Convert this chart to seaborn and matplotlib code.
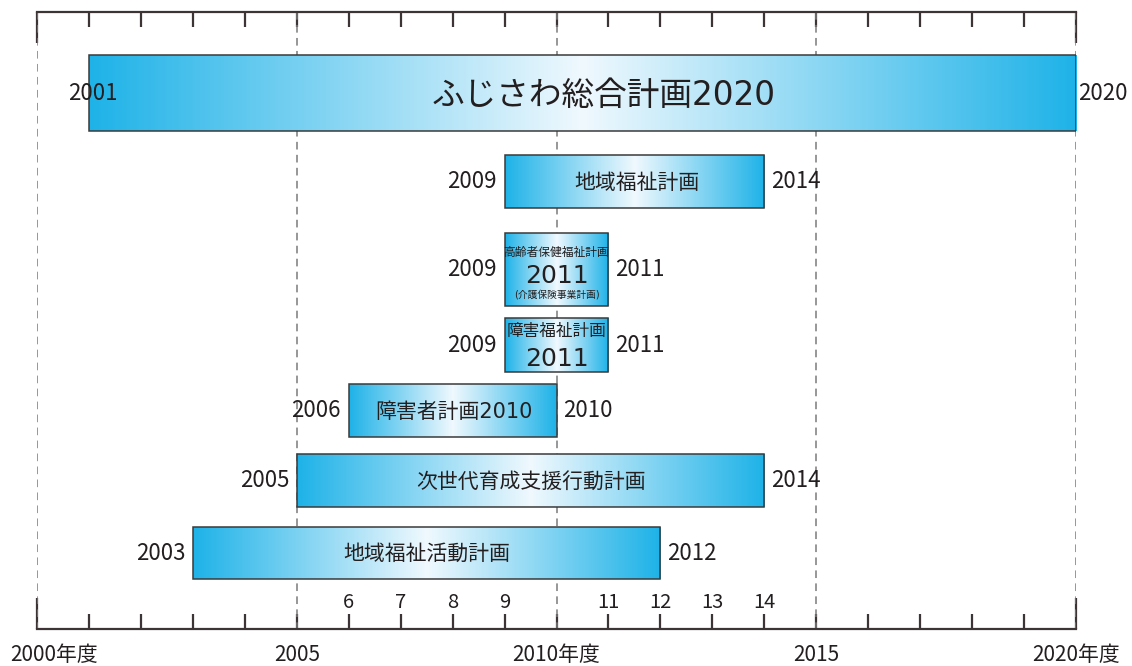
import numpy as np
import matplotlib
matplotlib.use("Agg")
import matplotlib.pyplot as plt
from matplotlib.ticker import FixedLocator, NullFormatter
import seaborn as sns

# ---- data -------------------------------------------------------------
plans = [
    "ふじさわ総合計画2020",
    "地域福祉計画",
    "高齢者保健福祉計画2011",
    "障害福祉計画2011",
    "障害者計画2010",
    "次世代育成支援行動計画",
    "地域福祉活動計画",
]
plan_note = "(介護保険事業計画)"
start_year = [2001, 2009, 2009, 2009, 2006, 2005, 2003]
end_year = [2020, 2014, 2011, 2011, 2010, 2014, 2012]

axis_years = [2000, 2005, 2010, 2015, 2020]
axis_labels = ["2000年度", "2005", "2010年度", "2015", "2020年度"]
short_years = [2006, 2007, 2008, 2009, 2011, 2012, 2013, 2014]

# ---- layout (vertical lanes, measured from the top frame line) -----------
lane_center = [81, 169.5, 257.5, 333, 398.5, 468.5, 541]
lane_height = [76, 53, 73, 54, 53, 53, 52]
AX_DEPTH = 617

sns.set_theme(style="white")
plt.rcParams["font.family"] = ["Noto Sans CJK JP", "DejaVu Sans"]
BAR_FONT = ["DejaVu Sans", "Noto Sans CJK JP"]   # wide digits inside the bars
INK = "#231f20"
FRAME = "#3d3535"

fig = plt.figure(figsize=(11.32, 6.66), dpi=100)
ax = fig.add_axes([37 / 1132, 37 / 666, 1039 / 1132, 617 / 666])

# dashed guide lines every five years
for yr in axis_years:
    ax.vlines(yr, 0, AX_DEPTH, colors="#7a7a7a", linewidth=1.1,
              linestyles=(0, (5, 3.5)), zorder=1)

# gradient fill: deep cyan at both ends, pale in the middle
edge = np.array([0.12, 0.70, 0.91])
mid = np.array([0.94, 0.975, 0.995])
t = np.linspace(0, 1, 256)
w = 1 - np.abs(2 * t - 1)
grad = (edge + (mid - edge) * w[:, None])[None, :, :]

bars = ax.barh(lane_center, np.array(end_year) - np.array(start_year),
               left=start_year, height=lane_height, facecolor="none",
               edgecolor="#3a3a3a", linewidth=1.1, zorder=3)
for bar, s, e, yc, h in zip(bars, start_year, end_year, lane_center, lane_height):
    im = ax.imshow(grad, extent=(s, e, yc + h / 2, yc - h / 2), aspect="auto",
                   interpolation="bilinear", zorder=2)
    im.set_clip_path(bar)

# year labels at both ends of each bar
for i, (s, e, yc) in enumerate(zip(start_year, end_year, lane_center)):
    if i == 0:
        ax.annotate(str(s), (s, yc), xytext=(3, 0), textcoords="offset points",
                    ha="center", va="center", fontsize=16, color=INK, zorder=5)
        ax.annotate(str(e), (e, yc), xytext=(1.5, 0), textcoords="offset points",
                    ha="left", va="center", fontsize=16, color=INK, zorder=5)
    else:
        ax.annotate(str(s), (s, yc), xytext=(-5.5, 0), textcoords="offset points",
                    ha="right", va="center", fontsize=16, color=INK, zorder=5)
        ax.annotate(str(e), (e, yc), xytext=(5, 0), textcoords="offset points",
                    ha="left", va="center", fontsize=16, color=INK, zorder=5)


# plan names inside the bars
def bar_text(i, label, dx_pt, dy_px, size):
    xc = (start_year[i] + end_year[i]) / 2
    ax.annotate(label, (xc, lane_center[i] + dy_px), xytext=(dx_pt, 0),
                textcoords="offset points", ha="center", va="center",
                fontsize=size, color=INK, family=BAR_FONT, zorder=5)


bar_text(0, plans[0], 15, 3, 23.5)
bar_text(1, plans[1], 1.5, 1, 15)
bar_text(2, plans[2][:-4], 0, -17.5, 8.5)
bar_text(2, plans[2][-4:], 0, 6.5, 18)
bar_text(2, plan_note, 0, 25, 7)
bar_text(3, plans[3][:-4], 0, -14.5, 12)
bar_text(3, plans[3][-4:], 0, 14.5, 18)
bar_text(4, plans[4], 1, 1, 15)
bar_text(5, plans[5], 0, 1, 15)
bar_text(6, plans[6], 0, 1, 15)

# short year numbers above the bottom axis
for yr in short_years:
    ax.text(yr, 590, str(yr % 100), ha="center", va="center",
            fontsize=14.5, color=INK, zorder=5)

# frame: top and bottom rules with yearly ticks
ax.set_xlim(2000, 2020)
ax.set_ylim(AX_DEPTH, 0)
sns.despine(ax=ax, left=True, right=True, top=False, bottom=False)
for side in ("top", "bottom"):
    ax.spines[side].set_color(FRAME)
    ax.spines[side].set_linewidth(1.6)

ax.xaxis.set_major_locator(FixedLocator([2000, 2020]))
ax.xaxis.set_minor_locator(FixedLocator(list(range(2001, 2020))))
ax.xaxis.set_major_formatter(NullFormatter())
ax.xaxis.set_minor_formatter(NullFormatter())
ax.tick_params(axis="x", which="major", direction="in", length=22, width=1.6,
               color=FRAME, top=True, bottom=True)
ax.tick_params(axis="x", which="minor", direction="in", length=11, width=1.6,
               color=FRAME, top=True, bottom=True)
ax.set_yticks([])

# year captions under the axis; the first one is kept inside the canvas
for yr, lab in zip(axis_years, axis_labels):
    shift = 17 if yr == axis_years[0] else 0
    ax.annotate(lab, (yr, AX_DEPTH), xytext=(shift * 0.72, -26 * 0.72),
                textcoords="offset points", ha="center", va="center",
                fontsize=15, color=INK, annotation_clip=False)

ax.set_facecolor("white")
ax.grid(False)

fig.savefig("out.png", dpi=100, facecolor="white")
